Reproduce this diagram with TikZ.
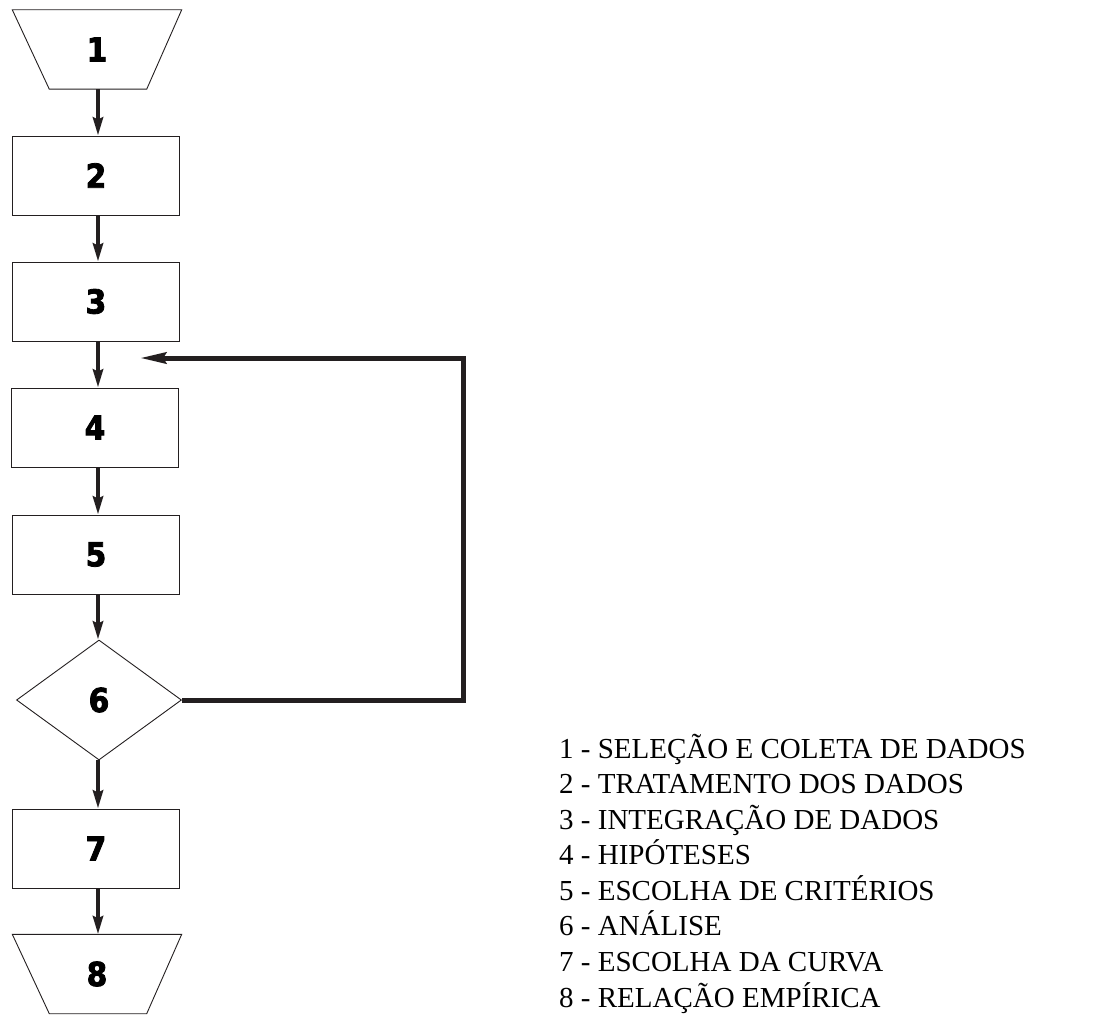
\documentclass[tikz,border=0pt]{standalone}
\usepackage{fontspec}
\setmainfont{Liberation Serif}
\newfontfamily\numfont{DejaVu Sans Condensed}[FakeBold=2.5]
\usetikzlibrary{shapes.geometric,arrows.meta,calc}
\definecolor{ink}{HTML}{231F20}
\begin{document}
\begin{tikzpicture}[x=1pt,y=-1pt,
  numtext/.style={font=\numfont\bfseries\fontsize{33}{33}\selectfont},
  box/.style={draw=ink,line width=0.9pt,minimum width=167pt,minimum height=79pt,inner sep=0pt,numtext},
  trapnode/.style={minimum width=169pt,minimum height=79pt,inner sep=0pt,numtext},
  dec/.style={draw=ink,line width=0.9pt,diamond,minimum width=165pt,minimum height=120pt,inner sep=0pt,numtext},
  flow/.style={draw=ink,line width=4pt,-{Stealth[length=18pt,width=10pt,inset=2pt]}},
  legend/.style={anchor=base west,inner sep=0pt,font=\fontsize{29}{29}\selectfont}
]
\useasboundingbox (0,0) rectangle (1094,1014);
% nodes
\node[trapnode] (n1) at (97,49.5) {1};
\draw[ink,line width=0.9pt] (n1.north west) -- (n1.north east) -- ($(n1.south east)+(-35,0)$) -- ($(n1.south west)+(37,0)$) -- cycle;
\node[box] (n2) at (96,175.5) {2};
\node[box] (n3) at (96,301.5) {3};
\node[box] (n4) at (95,427.5) {4};
\node[box] (n5) at (96,554.5) {5};
\node[dec] (n6) at (99,700) {6};
\node[box] (n7) at (96,848.5) {7};
\node[trapnode] (n8) at (97,974) {8};
\draw[ink,line width=0.9pt] (n8.north west) -- (n8.north east) -- ($(n8.south east)+(-35,0)$) -- ($(n8.south west)+(37,0)$) -- cycle;
% arrows
\draw[flow] (n1.south -| 98,0) -- (n2.north -| 98,0);
\draw[flow] (n2.south -| 98,0) -- (n3.north -| 98,0);
\draw[flow] (n3.south -| 98,0) -- (n4.north -| 98,0);
\draw[flow] (n4.south -| 98,0) -- (n5.north -| 98,0);
\draw[flow] (n5.south -| 98,0) -- (n6.north -| 98,0);
\draw[flow] (n6.south -| 98,0) -- (n7.north -| 98,0);
\draw[flow] (n7.south -| 98,0) -- (n8.north -| 98,0);
% loop
\coordinate (c1) at (463,700);
\coordinate (c2) at (463,358);
\coordinate (c3) at (140,358);
\draw[ink,line width=5pt,line join=miter,-{Stealth[length=26pt,width=11pt,inset=3pt]}] (n6.east) -- (c1) -- (c2) -- (c3);
% legend
\node[legend] (l1) at (559,758) {1 - SELEÇÃO E COLETA DE DADOS};
\node[legend] (l2) at (559,793.6) {2 - TRATAMENTO DOS DADOS};
\node[legend] (l3) at (559,829.1) {3 - INTEGRAÇÃO DE DADOS};
\node[legend] (l4) at (559,864.7) {4 - HIPÓTESES};
\node[legend] (l5) at (559,900.3) {5 - ESCOLHA DE CRITÉRIOS};
\node[legend] (l6) at (559,935.9) {6 - ANÁLISE};
\node[legend] (l7) at (559,971.4) {7 - ESCOLHA DA CURVA};
\node[legend] (l8) at (559,1007) {8 - RELAÇÃO EMPÍRICA};
\end{tikzpicture}
\end{document}
